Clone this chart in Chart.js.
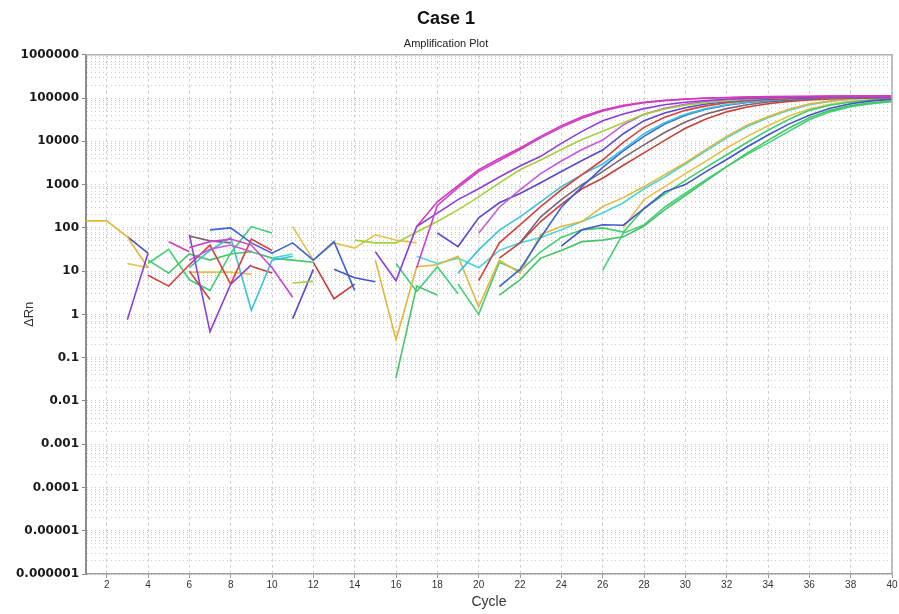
<!DOCTYPE html>
<html lang="en">
<head>
  <meta charset="UTF-8">
  <title>Case 1 - Amplification Plot</title>
  <script src="https://cdn.jsdelivr.net/npm/chart.js"></script>
  <style>
    html, body {
      margin: 0;
      padding: 0;
      background-color: #ffffff;
    }

    #wrap {
      width: 899px;
      height: 614px;
    }
  </style>
</head>
<body>

  <div id="wrap">
    <canvas id="grafico"></canvas>
  </div>

  <script>
    const N = null;

    // cycles 1..40
    const cycles = [1, 2, 3, 4, 5, 6, 7, 8, 9, 10, 11, 12, 13, 14, 15, 16, 17, 18, 19, 20,
                    21, 22, 23, 24, 25, 26, 27, 28, 29, 30, 31, 32, 33, 34, 35, 36, 37, 38, 39, 40];
    const xTicks = [2, 4, 6, 8, 10, 12, 14, 16, 18, 20, 22, 24, 26, 28, 30, 32, 34, 36, 38, 40];
    const yDecades = [1e-6, 1e-5, 1e-4, 1e-3, 1e-2, 1e-1, 1, 10, 100, 1000, 10000, 100000, 1000000];
    const yTickLabels = ['0.000001', '0.00001', '0.0001', '0.001', '0.01', '0.1', '1', '10', '100',
                         '1000', '10000', '100000', '1000000'];

    // ΔRn per well (null = not plotted on log scale)
    const magentaA = [N, N, N, N, 48, 28, N, N, N, N,
                      N, N, N, N, N, N, 107, 400, 950, 2200,
                      4000, 7000, 13000, 23000, 37000, 53000, 68000, 80000, 89000, 95000,
                      100000, 103000, 106000, 108000, 109000, 110000, 111000, 112000, 112000, 113000];
    const magentaB = [N, N, N, N, N, 35, 48, 55, 40, 12,
                      2.5, N, N, N, N, N, 12, 330, 850, 2000,
                      3600, 6500, 12000, 21000, 34000, 50000, 65000, 78000, 87000, 94000,
                      99000, 102000, 105000, 107000, 108000, 109000, 110000, 111000, 111000, 112000];
    const purpleA = [N, N, 0.75, 26, N, 70, 0.4, 5, 14, N,
                     N, N, N, N, 28, 6, 107, 220, 450, 800,
                     1500, 2700, 4500, 9000, 17000, 30000, 43000, 57000, 70000, 80000,
                     88000, 94000, 98000, 101000, 103000, 105000, 106000, 107000, 108000, 108000];
    const lime = [N, N, N, N, N, N, N, N, N, N,
                  5.3, 5.8, N, 52, 45, 45, 80, 140, 260, 520,
                  1100, 2200, 3700, 6500, 11000, 17000, 27000, 42000, 56000, 68000,
                  78000, 87000, 94000, 99000, 103000, 106000, 108000, 110000, 111000, 112000];
    const orchid = [N, N, N, N, N, 18, 32, 40, 28, N,
                    N, N, N, N, N, N, N, N, N, 75,
                    300, 760, 1800, 3500, 6500, 10700, 24000, 42000, 58000, 72000,
                    83000, 91000, 96000, 100000, 103000, 105000, 106000, 107000, 108000, 108000];
    const violet = [N, N, N, N, N, N, N, N, N, N,
                    0.8, 11, N, N, N, N, N, 76, 37, 170,
                    380, 620, 1100, 2000, 3600, 6300, 15000, 30000, 45000, 60000,
                    73000, 84000, 92000, 97000, 101000, 104000, 106000, 107000, 108000, 109000];
    const redA = [N, N, N, 8, 4.5, 14, 40, 5, 55, 30,
                  N, N, N, N, N, N, N, N, N, 6,
                  45, 117, 310, 760, 1700, 3700, 9500, 21000, 36000, 52000,
                  66000, 78000, 87000, 93000, 97000, 100000, 102000, 104000, 105000, 106000];
    const cyanA = [N, N, N, N, N, 12, 30, 60, 1.25, 18,
                   22, N, N, N, N, N, N, N, 9, 31,
                   89, 180, 400, 900, 1700, 3000, 6500, 15000, 27000, 42000,
                   57000, 70000, 81000, 89000, 95000, 99000, 102000, 104000, 105000, 106000];
    const blueB = [N, N, N, N, N, N, 90, 100, 45, 26,
                   45, 18, 48, 3.6, N, N, N, N, N, N,
                   4.4, 11, 60, 300, 900, 2500, 6000, 13000, 25000, 40000,
                   55000, 68000, 79000, 88000, 94000, 98000, 101000, 103000, 104000, 105000];
    const darkGray = [N, N, N, N, N, 65, 50, 45, N, N,
                      N, N, N, N, N, N, N, N, N, N,
                      N, 45, 180, 450, 1000, 2000, 4200, 8300, 16000, 28000,
                      43000, 57000, 70000, 81000, 89000, 95000, 99000, 102000, 103000, 104000];
    const redB = [N, N, N, N, N, 10, 2.2, N, 13, 9,
                  N, 16, 2.3, 5, N, N, N, N, N, N,
                  20, 45, 140, 350, 800, 1400, 2800, 5400, 10500, 20000,
                  33000, 48000, 62000, 74000, 84000, 91000, 96000, 99000, 101000, 102000];
    const yellowA = [145, 145, 62, 12, N, N, N, N, N, N,
                     N, N, N, N, 18, 0.26, 12.6, 14, 22, 1.5,
                     18, 9, 70, 107, 140, 310, 500, 900, 1700, 3200,
                     6500, 13000, 24000, 37000, 55000, 73000, 86000, 96000, 101000, 104000];
    const cyanB = [N, N, N, N, N, N, N, N, N, 20,
                   25, N, N, N, N, N, 22, 15, 20, 12,
                   30, 45, 60, 90, 140, 220, 380, 800, 1500, 3000,
                   6000, 12000, 22000, 35000, 52000, 70000, 84000, 94000, 100000, 103000];
    const blueC = [N, N, 63, 26, N, N, N, N, N, N,
                   N, N, 11, 7, 5.7, N, N, N, N, N,
                   N, N, N, 38, 90, 118, 115, 280, 680, 1000,
                   2000, 3800, 7500, 14000, 25000, 40000, 58000, 74000, 86000, 94000];
    const greenA = [N, N, N, 15, 32, 6.3, 3.6, 26, 107, 76,
                    N, N, N, N, N, N, N, N, 5, 1.0,
                    16, 10, 28, 60, 90, 100, 80, 280, 600, 1250,
                    2500, 4900, 9500, 18000, 32000, 52000, 68000, 81000, 89000, 94000];
    const greenB = [N, N, N, 18, 9, 25, 18, 25, 28, 20,
                    18, 16, N, N, N, 0.034, 4.5, 2.8, N, N,
                    2.8, 6.3, 20, 30, 48, 52, 62, 110, 260, 560,
                    1200, 2600, 5400, 10500, 20000, 35000, 52000, 67000, 78000, 86000];
    const greenC = [N, N, N, N, N, N, N, N, N, N,
                    N, N, N, N, N, 15, 3.4, 12.6, 3.0, N,
                    N, N, N, N, N, 10.5, 76, 117, 300, 630,
                    1300, 2600, 5000, 9100, 17000, 31600, 48000, 63000, 74000, 82000];
    const yellowB = [N, N, 15, 12, N, 9.5, 9.5, 9.5, 8.5, N,
                     107, 18, 45, 34, 69, 52, 45, N, N, N,
                     N, N, N, N, N, N, 100, 450, 900, 1800,
                     3500, 7000, 13000, 23000, 38000, 56000, 72000, 84000, 92000, 97000];

    const wells = [
      { name: 'A1', data: magentaA, cor: '#d43ab8' },
      { name: 'A2', data: magentaB, cor: '#cc40cf' },
      { name: 'A3', data: purpleA, cor: '#8b3fd6' },
      { name: 'A4', data: lime, cor: '#a3d03c' },
      { name: 'A5', data: orchid, cor: '#c659d6' },
      { name: 'A6', data: violet, cor: '#5a49cf' },
      { name: 'A7', data: redA, cor: '#d8413c' },
      { name: 'A8', data: cyanA, cor: '#39c2dc' },
      { name: 'A9', data: blueB, cor: '#3a63d8' },
      { name: 'A10', data: darkGray, cor: '#7b6470' },
      { name: 'A11', data: redB, cor: '#c6423a' },
      { name: 'A12', data: yellowA, cor: '#e2b43a' },
      { name: 'B1', data: cyanB, cor: '#4ad6d6' },
      { name: 'B2', data: blueC, cor: '#4255c4' },
      { name: 'B3', data: greenA, cor: '#3ecf72' },
      { name: 'B4', data: greenB, cor: '#45c466' },
      { name: 'B5', data: greenC, cor: '#3fd078' },
      { name: 'B6', data: yellowB, cor: '#e6be48' }
    ];

    function isDecade(v) {
      return yDecades.some(d => Math.abs(v / d - 1) < 1e-6);
    }

    // draw the top / right frame of the plot area
    const moldura = {
      id: 'moldura',
      afterDraw(chart) {
        const a = chart.chartArea;
        const c = chart.ctx;
        c.save();
        c.strokeStyle = '#b0b0b0';
        c.lineWidth = 1.5;
        c.beginPath();
        c.moveTo(a.left, a.top);
        c.lineTo(a.right, a.top);
        c.lineTo(a.right, a.bottom);
        c.stroke();
        c.restore();
      }
    };

    const ctx = document.getElementById('grafico').getContext('2d');
    new Chart(ctx, {
      type: 'line',
      data: {
        labels: cycles,
        datasets: wells.map(w => ({
          label: w.name,
          data: w.data,
          borderColor: w.cor,
          borderWidth: 1.6,
          pointRadius: 0,
          tension: 0,
          spanGaps: false
        }))
      },
      options: {
        responsive: true,
        maintainAspectRatio: false,
        animation: false,
        layout: {
          padding: { left: 0, right: 7, top: 0, bottom: 0 }
        },
        plugins: {
          legend: { display: false },
          tooltip: { enabled: false },
          title: {
            display: true,
            text: 'Case 1',
            color: '#111',
            font: { family: 'Liberation Sans', size: 18, weight: 'bold' },
            padding: { top: 8, bottom: 8 }
          },
          subtitle: {
            display: true,
            text: 'Amplification Plot',
            color: '#222',
            font: { family: 'Liberation Sans', size: 11 },
            padding: { top: 0, bottom: 4 }
          }
        },
        scales: {
          x: {
            type: 'linear',
            min: 1,
            max: 40,
            afterBuildTicks: s => { s.ticks = xTicks.map(v => ({ value: v })); },
            afterFit: s => { s.height = 40; },
            grid: {
              color: '#cfcfcf',
              lineWidth: 1,
              drawTicks: true,
              tickLength: 4,
              tickColor: '#999'
            },
            border: { display: true, color: '#a0a0a0', width: 1.5, dash: [3, 3] },
            ticks: {
              autoSkip: false,
              maxRotation: 0,
              padding: 1,
              color: '#333',
              font: { family: 'Liberation Sans Narrow, Liberation Sans', size: 10 }
            },
            title: {
              display: true,
              text: 'Cycle',
              color: '#333',
              font: { family: 'Liberation Sans', size: 14 },
              padding: { top: 0, bottom: 3 }
            }
          },
          y: {
            type: 'logarithmic',
            min: 1e-6,
            max: 1e6,
            afterBuildTicks: s => {
              const t = [];
              yDecades.forEach((d, i) => {
                if (i < yDecades.length - 1) {
                  for (let m = 1; m <= 9; m++) t.push({ value: m * d });
                } else {
                  t.push({ value: d });
                }
              });
              s.ticks = t;
            },
            afterFit: s => { s.width = 86; },
            grid: {
              color: '#cdcdcd',
              lineWidth: 1,
              drawTicks: true,
              tickLength: 4,
              tickColor: c => isDecade(c.tick.value) ? '#888' : 'rgba(0,0,0,0)'
            },
            border: { display: true, color: '#8c8c8c', width: 2, dash: [1, 3] },
            ticks: {
              autoSkip: false,
              padding: 3,
              color: '#1a1a1a',
              font: { family: 'DejaVu Sans', size: 12, weight: 'bold' },
              callback: v => {
                const i = yDecades.findIndex(d => Math.abs(v / d - 1) < 1e-6);
                return i >= 0 ? yTickLabels[i] : '';
              }
            },
            title: {
              display: true,
              text: 'ΔRn',
              color: '#333',
              font: { family: 'Liberation Sans', size: 13 },
              padding: { top: 22, bottom: 0 }
            }
          }
        }
      },
      plugins: [moldura]
    });
  </script>

</body>
</html>
